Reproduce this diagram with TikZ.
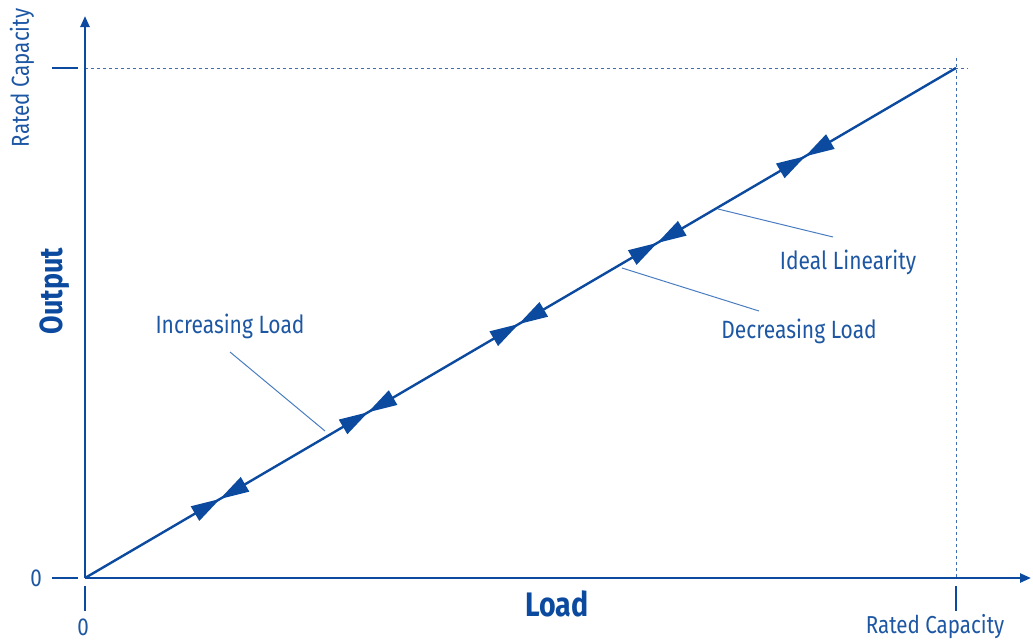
\documentclass[tikz,border=0pt]{standalone}
\usepackage{fontspec}
\setmainfont{Fira Sans}[FakeStretch=0.84]
\usetikzlibrary{arrows.meta,calc}
\definecolor{mtblue}{HTML}{0B4A9E}
\definecolor{mttext}{HTML}{1D57A3}
\definecolor{mtlight}{HTML}{4A7CC0}
\tikzset{
  axisline/.style={mtblue,line width=2.4pt},
  tickline/.style={mtblue,line width=1.4pt},
  guide/.style={mtblue!80,line width=0.9pt,dash pattern=on 3pt off 3pt},
  leader/.style={mtlight,line width=1pt},
  headfill/.style={fill=mtblue},
  lbl/.style={text=mttext,font=\fontsize{25}{28}\selectfont,inner sep=0pt},
  smlbl/.style={text=mttext,font=\fontsize{24.5}{28}\selectfont,inner sep=0pt},
  biglbl/.style={text=mtblue,font=\bfseries\fontsize{34}{38}\selectfont,inner sep=0pt}
}
\begin{document}
\begin{tikzpicture}[x=1pt,y=-1pt]
\useasboundingbox (0,0) rectangle (1033,643);
\coordinate (O) at (85,578);
\coordinate (RC) at (956,68);
\coordinate (ytop) at (85,16);
\coordinate (xend) at (1031,578);
\coordinate (hdashL) at (85,68);
\coordinate (hdashR) at (968,68);
\coordinate (vdashT) at (956,58);
\coordinate (vdashB) at (956,578);
\coordinate (ytickA) at (52,68);
\coordinate (ytickB) at (78,68);
\coordinate (ztickA) at (52,578);
\coordinate (ztickB) at (78,578);
\coordinate (xtickOA) at (85,586);
\coordinate (xtickOB) at (85,611);
\coordinate (xtickRA) at (956,586);
\coordinate (xtickRB) at (956,611);
% guides
\draw[guide] (hdashL) -- (hdashR);
\draw[guide] (vdashT) -- (vdashB);
% axes
\draw[axisline,-{Triangle[length=11pt,width=9pt]}] (O) -- (ytop);
\draw[axisline,-{Triangle[length=11pt,width=9pt]}] (O) -- (xend);
% ticks
\draw[tickline] (ytickA) -- (ytickB);
\draw[tickline] (ztickA) -- (ztickB);
\draw[tickline] (xtickOA) -- (xtickOB);
\draw[tickline] (xtickRA) -- (xtickRB);
% ideal line
\draw[axisline] (O) -- (RC);
% arrow pairs
\foreach \f [count=\i] in {0.155,0.325,0.498,0.657,0.827}{
  \coordinate (c\i) at ($(O)!\f!(RC)$);
  \coordinate (ca\i) at ($(c\i)!29pt!(O)$);
  \coordinate (cb\i) at ($(c\i)!29pt!(RC)$);
  \fill[headfill] (c\i) -- ($(ca\i)!8.5pt!90:(c\i)$) -- ($(ca\i)!8.5pt!-90:(c\i)$) -- cycle;
  \fill[headfill] (c\i) -- ($(cb\i)!8.5pt!90:(c\i)$) -- ($(cb\i)!8.5pt!-90:(c\i)$) -- cycle;
}
% labels
\node[smlbl] (zy) at (36,578) {0};
\node[smlbl] (zx) at (83,627) {0};
\node[smlbl,rotate=90] (rcy) at (22,78) {Rated Capacity};
\node[smlbl] (rcx) at (935,627) {Rated Capacity};
\node[biglbl] (load) at (557,604) {Load};
\node[biglbl,rotate=90,font=\bfseries\fontsize{32}{36}\selectfont] (out) at (55,291) {Output};
\node[lbl] (inc) at (230,326) {Increasing Load};
\node[lbl] (ideal) at (848,262) {Ideal Linearity};
\node[lbl] (dec) at (799,331) {Decreasing Load};
% leaders
\coordinate (incA) at (230,352);
\coordinate (incB) at (325,431);
\coordinate (idA) at (833,237);
\coordinate (idB) at (718,209);
\coordinate (deA) at (759,311);
\coordinate (deB) at (622,268);
\draw[leader] (incA) -- (incB);
\draw[leader] (idA) -- (idB);
\draw[leader] (deA) -- (deB);
\end{tikzpicture}
\end{document}
